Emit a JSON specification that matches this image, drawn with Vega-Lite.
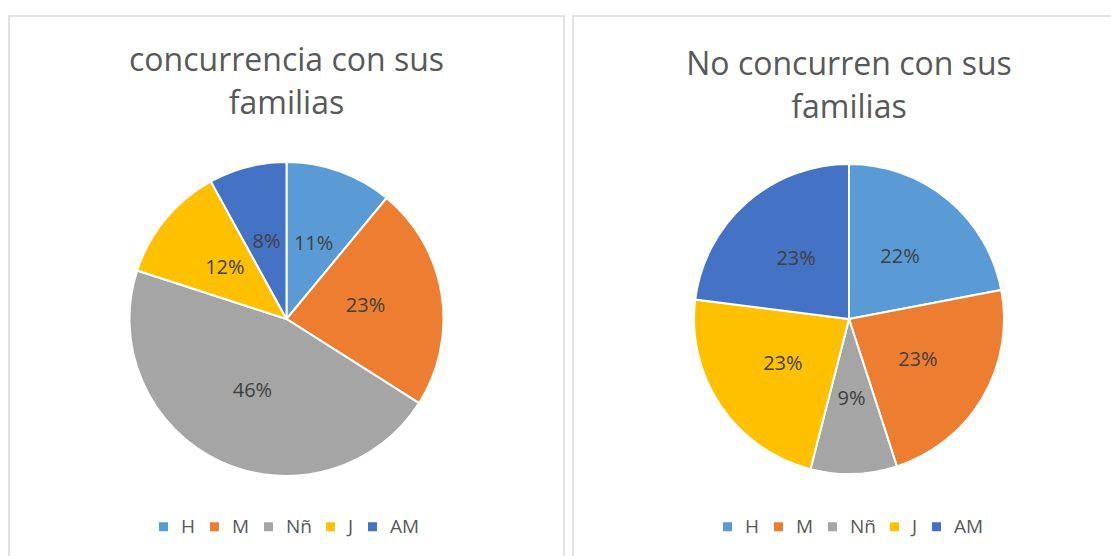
{
  "$schema": "https://vega.github.io/schema/vega-lite/v6.json",
  "padding": {"left": 8, "top": 15, "right": 0, "bottom": 0},
  "background": "white",
  "config": {
    "view": {"stroke": "#d9d9d9", "strokeWidth": 1.5},
    "font": "Open Sans",
    "title": {"font": "Open Sans", "fontSize": 32, "fontWeight": "normal", "color": "#595959", "lineHeight": 43, "anchor": "middle", "offset": -105},
    "legend": {"labelFont": "Open Sans", "labelFontSize": 19, "labelColor": "#595959", "symbolType": "square", "symbolSize": 81, "symbolStrokeWidth": 0, "labelOffset": 8, "columnPadding": 9, "direction": "horizontal", "orient": "none", "legendY": 501, "legendX": 145, "title": null}
  },
  "datasets": {
    "con": [
      {"grupo": "H", "orden": 1, "valor": 0.11},
      {"grupo": "M", "orden": 2, "valor": 0.23},
      {"grupo": "Nñ", "orden": 3, "valor": 0.46},
      {"grupo": "J", "orden": 4, "valor": 0.12},
      {"grupo": "AM", "orden": 5, "valor": 0.08}
    ],
    "sin": [
      {"grupo": "H", "orden": 1, "valor": 0.22},
      {"grupo": "M", "orden": 2, "valor": 0.23},
      {"grupo": "Nñ", "orden": 3, "valor": 0.09},
      {"grupo": "J", "orden": 4, "valor": 0.23},
      {"grupo": "AM", "orden": 5, "valor": 0.23}
    ]
  },
  "spacing": 7,
  "resolve": {"scale": {"color": "independent"}, "legend": {"color": "independent"}},
  "hconcat": [
    {
      "width": 555,
      "height": 606,
      "view": {"stroke": "#d9d9d9", "strokeWidth": 1.5},
      "title": {"text": ["concurrencia con sus", "familias"]},
      "data": {"name": "con"},
      "encoding": {
        "theta": {"field": "valor", "type": "quantitative", "stack": true},
        "order": {"field": "orden", "type": "quantitative"},
        "color": {"field": "grupo", "type": "nominal", "scale": {"domain": ["H", "M", "Nñ", "J", "AM"], "range": ["#5B9BD5", "#ED7D31", "#A5A5A5", "#FFC000", "#4472C4"]}, "sort": ["H", "M", "Nñ", "J", "AM"], "legend": {}}
      },
      "layer": [
        {"mark": {"type": "arc", "radius": 157, "stroke": "white", "strokeWidth": 2}},
        {"mark": {"type": "text", "radius": 80, "fontSize": 20, "fill": "#404040", "font": "Open Sans"}, "encoding": {"text": {"field": "valor", "type": "quantitative", "format": ".0%"}}}
      ]
    },
    {
      "width": 552,
      "height": 606,
      "view": {"stroke": "#d9d9d9", "strokeWidth": 1.5},
      "title": {"text": ["No concurren con sus", "familias"], "offset": -109},
      "data": {"name": "sin"},
      "encoding": {
        "theta": {"field": "valor", "type": "quantitative", "stack": true},
        "order": {"field": "orden", "type": "quantitative"},
        "color": {"field": "grupo", "type": "nominal", "scale": {"domain": ["H", "M", "Nñ", "J", "AM"], "range": ["#5B9BD5", "#ED7D31", "#A5A5A5", "#FFC000", "#4472C4"]}, "sort": ["H", "M", "Nñ", "J", "AM"], "legend": {}}
      },
      "layer": [
        {"mark": {"type": "arc", "radius": 155, "stroke": "white", "strokeWidth": 2}},
        {"mark": {"type": "text", "radius": 80, "fontSize": 20, "fill": "#404040", "font": "Open Sans"}, "encoding": {"text": {"field": "valor", "type": "quantitative", "format": ".0%"}}}
      ]
    }
  ]
}
